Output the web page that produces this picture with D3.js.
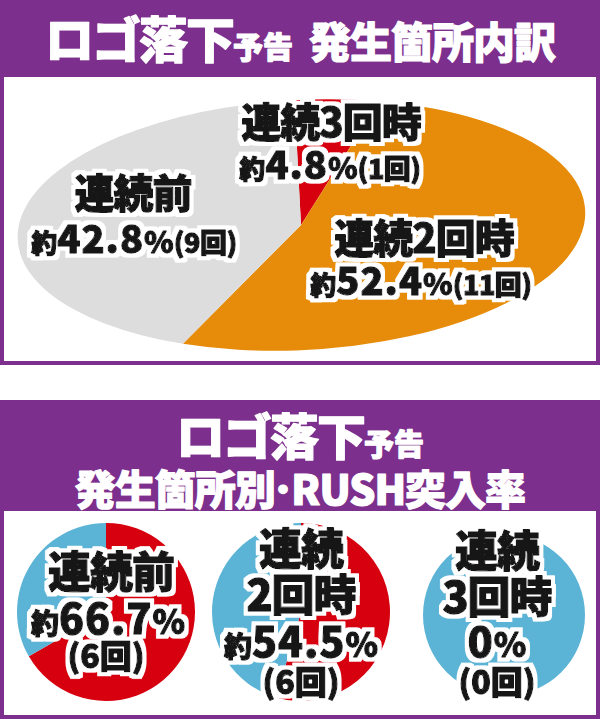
<!DOCTYPE html>
<html><head><meta charset="utf-8">
<script src="https://cdn.jsdelivr.net/npm/d3@7/dist/d3.min.js"></script>
<style>
html,body{margin:0;padding:0;background:#fff;}
svg{display:block;}
text{font-family:"Noto Sans CJK JP","Noto Sans",sans-serif;font-weight:900;}
</style></head>
<body>
<svg id="chart" width="600" height="719"></svg>
<script>
// ---- data ----
const topCategories = ["連続3回時", "連続2回時", "連続前"];
const topValues = [4.8, 52.4, 42.8];
const topCounts = [1, 11, 9];

const rushCategories = ["連続前", "連続2回時", "連続3回時"];
const rushRates = [66.7, 54.5, 0];
const rushCounts = [6, 6, 0];

// ---- styles ----
const purple = "#7d2f8d";
const topColors = ["#d7000f", "#e68c0a", "#dddddd"];
const rushColor = "#d7000f", missColor = "#5bb3d6";

const svg = d3.select("#chart");

// white halo filter
const f = svg.append("defs").append("filter").attr("id","halo")
  .attr("x","-20%").attr("y","-30%").attr("width","140%").attr("height","160%");
f.append("feMorphology").attr("in","SourceAlpha").attr("operator","dilate").attr("radius",3.5).attr("result","d");
f.append("feFlood").attr("flood-color","#fff").attr("result","w");
f.append("feComposite").attr("in","w").attr("in2","d").attr("operator","in").attr("result","outline");
const m = f.append("feMerge");
m.append("feMergeNode").attr("in","outline");
m.append("feMergeNode").attr("in","SourceGraphic");

// ===== top panel =====
svg.append("rect").attr("x",0).attr("y",0).attr("width",600).attr("height",365).attr("fill",purple);
svg.append("rect").attr("x",4).attr("y",77).attr("width",592).attr("height",284).attr("fill","#fff");

function headerText(x, y, parts){
  const t = svg.append("text").attr("x",x).attr("y",y).attr("text-anchor","middle")
    .attr("fill","#fff").attr("stroke","#fff").attr("stroke-width",1.2).attr("stroke-linejoin","round");
  parts.forEach(p => {
    const s = t.append("tspan").attr("font-size",p.size).attr("letter-spacing",p.ls||0).text(p.text);
    if (p.dx) s.attr("dx",p.dx);
  });
}
headerText(300, 58, [
  {text:"ロゴ落下", size:49, ls:-2},
  {text:"予告", size:30},
  {text:"発生箇所内訳", size:42, ls:-1, dx:16}
]);

const pie = d3.pie().sort(null).value(d => d);
const ell = {cx: 301, cy: 225, rx: 284, ry: 125};
const gTop = svg.append("g").attr("transform",`translate(${ell.cx},${ell.cy}) rotate(-3) scale(${ell.rx},${ell.ry})`);
const arcUnit = d3.arc().innerRadius(0).outerRadius(1);
gTop.selectAll("path").data(pie(topValues)).join("path")
  .attr("d", arcUnit).attr("fill", (d,i) => topColors[i]);

// outlined label: heavy black text with white halo (single text element)
function outlinedText(x, y, build){
  const t = svg.append("text").attr("x",x).attr("y",y).attr("text-anchor","middle")
    .attr("fill","#151515").attr("stroke","#151515").attr("stroke-width",1.3)
    .attr("stroke-linejoin","round").attr("filter","url(#halo)");
  build(t);
}
function nameLabel(x, y, txt, size){
  outlinedText(x, y, t => t.append("tspan").attr("font-size",size).attr("letter-spacing",-1).text(txt));
}
function pctLabel(x, y, pct, cnt, sizes){
  outlinedText(x, y, t => {
    if (pct > 0) t.append("tspan").attr("font-size",sizes[0]).text("約");
    t.append("tspan").attr("font-size",sizes[1]).attr("letter-spacing",1).text(pct.toFixed(pct>0?1:0));
    t.append("tspan").attr("font-size",sizes[2]).text("%");
    if (cnt !== null) t.append("tspan").attr("font-size",sizes[3]).attr("letter-spacing",-0.5).text(`(${cnt}回)`);
  });
}
function countLabel(x, y, cnt, size){
  outlinedText(x, y, t => t.append("tspan").attr("font-size",size).text(`(${cnt}回)`));
}

// top labels
const topLabelPos = [
  {x:331, y:137, x2:330, y2:179},
  {x:424, y:253, x2:421, y2:295},
  {x:133, y:208, x2:134, y2:253}
];
topCategories.forEach((c,i) => {
  const p = topLabelPos[i];
  nameLabel(p.x, p.y, c, 40);
  pctLabel(p.x2, p.y2, topValues[i], topCounts[i], [26,38,30,27]);
});

// ===== bottom panel =====
svg.append("rect").attr("x",0).attr("y",400).attr("width",600).attr("height",319).attr("fill",purple);
svg.append("rect").attr("x",4).attr("y",511).attr("width",592).attr("height",204).attr("fill","#fff");

headerText(300, 455, [
  {text:"ロゴ落下", size:49, ls:-2},
  {text:"予告", size:30}
]);
headerText(300, 505, [
  {text:"発生箇所別", size:41, ls:-1},
  {text:"･", size:41, dx:-2},
  {text:"RUSH突入率", size:41, ls:-1, dx:-2}
]);

const circles = [
  {cx:106, cy:612, r:89},
  {cx:301, cy:612, r:89},
  {cx:504, cy:615, r:81}
];
rushCategories.forEach((c,i) => {
  const ci = circles[i];
  const g = svg.append("g").attr("transform",`translate(${ci.cx},${ci.cy})`);
  const arc = d3.arc().innerRadius(0).outerRadius(ci.r);
  const vals = [rushRates[i], 100 - rushRates[i]];
  g.selectAll("path").data(pie(vals)).join("path")
    .attr("d", arc).attr("fill", (d,j) => j===0 ? rushColor : missColor);
});

// bottom labels
nameLabel(111, 588, rushCategories[0], 43);
pctLabel(108, 634, rushRates[0], null, [28,41,33,0]);
countLabel(106, 668, rushCounts[0], 32);
[1,2].forEach(i => {
  const x = i===1 ? 301 : 497;
  const dy = i===1 ? 0 : 2;
  const name = rushCategories[i];
  nameLabel(x, 565+dy, name.slice(0,2), 43);
  nameLabel(x, 611+dy, name.slice(2), 43);
  pctLabel(x, 657, rushRates[i], null, [28,41,33,0]);
  countLabel(x, 694, rushCounts[i], 32);
});
</script>
</body></html>
